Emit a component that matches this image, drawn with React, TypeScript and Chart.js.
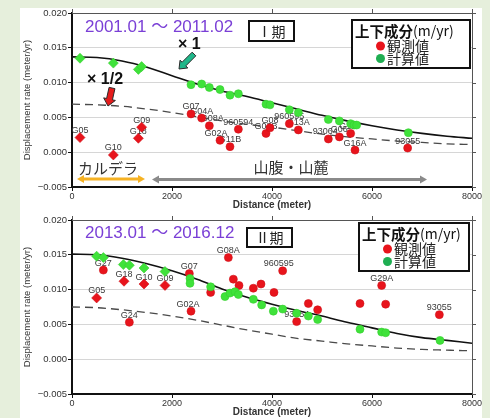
import { useEffect, useRef } from "react";
import { Chart, registerables } from "chart.js";

Chart.register(...registerables);

const SANS = "'Liberation Sans', 'Noto Sans CJK JP', sans-serif";
const JP = "'Noto Sans CJK JP', 'Noto Sans', sans-serif";

// Distances (m) at which the model curves are sampled
const curveDist = [0, 500, 1000, 1500, 2000, 2500, 3000, 3500, 4000, 4500, 5000, 5500, 6000, 6500, 7000, 7500, 8000];

// Period I: 2001.01 – 2011.02
const p1ModelFull = [0.0137, 0.0136, 0.0131, 0.0122, 0.0110, 0.0098, 0.0088, 0.0080, 0.0071, 0.0062, 0.0053, 0.0045, 0.0038, 0.0032, 0.0027, 0.0023, 0.0020];
const p1ModelHalf = [0.0069, 0.0068, 0.0066, 0.0062, 0.0057, 0.0051, 0.0045, 0.0040, 0.0036, 0.0031, 0.0026, 0.0022, 0.0019, 0.0016, 0.0014, 0.0012, 0.0011];
const p1ObsLabel = ["G05", "G10", "G18", "G09", "G07", "G04A", "G08A", "G02A", "G11B", "960594", "G03B", "G08", "960595", "G13A", "93064", "G06", "G12", "G16A", "93055"];
const p1ObsDist = [160, 827, 1327, 1393, 2380, 2593, 2747, 2960, 3160, 3327, 3880, 3960, 4347, 4527, 5127, 5347, 5573, 5660, 6713];
const p1ObsRate = [0.0021, -0.0004, 0.002, 0.0036, 0.0055, 0.0049, 0.0038, 0.0017, 0.0008, 0.0033, 0.0027, 0.0035, 0.0041, 0.0032, 0.0019, 0.0022, 0.0027, 0.0003, 0.0006];
const p1CalcDist = [160, 827, 1327, 1393, 2380, 2593, 2747, 2960, 3160, 3327, 3880, 3960, 4347, 4527, 5127, 5347, 5573, 5640, 5693, 6727];
const p1CalcRate = [0.0135, 0.0128, 0.0119, 0.0123, 0.0097, 0.0098, 0.0093, 0.009, 0.0082, 0.0084, 0.0069, 0.0068, 0.0061, 0.0057, 0.0047, 0.0045, 0.0041, 0.0039, 0.0039, 0.0028];

// Period II: 2013.01 – 2016.12
const p2ModelFull = [0.0151, 0.015, 0.0145, 0.0137, 0.0127, 0.0115, 0.0101, 0.0089, 0.0079, 0.007, 0.0062, 0.0053, 0.0045, 0.0037, 0.0031, 0.0027, 0.0023];
const p2ModelHalf = [0.0075, 0.0074, 0.0071, 0.0067, 0.0062, 0.0056, 0.0049, 0.0042, 0.0036, 0.003, 0.0026, 0.0022, 0.0019, 0.0016, 0.0014, 0.0013, 0.0012];
const p2ObsLabel = ["G05", "G27", "G18", "G24", "G10", "G09", "G07", "G02A", "", "G08A", "", "", "", "", "", "960595", "93054", "", "", "", "G29A", "", "93055"];
const p2ObsDist = [493, 627, 1040, 1147, 1440, 1860, 2347, 2380, 2773, 3127, 3227, 3340, 3627, 3780, 4040, 4213, 4493, 4727, 4913, 5760, 6193, 6273, 7347];
const p2ObsRate = [0.0088, 0.0128, 0.0112, 0.0053, 0.0108, 0.0106, 0.0123, 0.0069, 0.0096, 0.0146, 0.0115, 0.0106, 0.0102, 0.0108, 0.0096, 0.0127, 0.0054, 0.008, 0.0071, 0.008, 0.0106, 0.0079, 0.0064];
const p2CalcDist = [493, 627, 1027, 1147, 1440, 1860, 2360, 2360, 2773, 3060, 3160, 3260, 3327, 3627, 3793, 4027, 4213, 4493, 4727, 4913, 5760, 6193, 6273, 7360];
const p2CalcRate = [0.0148, 0.0146, 0.0136, 0.0135, 0.0131, 0.0126, 0.0116, 0.0109, 0.0104, 0.009, 0.0095, 0.0097, 0.0093, 0.0086, 0.0078, 0.0069, 0.0072, 0.0066, 0.0062, 0.0057, 0.0043, 0.0039, 0.0038, 0.0027];

// Stations inside the caldera are drawn as diamonds
const calderaStations = ["G05", "G10", "G18", "G09"];
const calderaEdge = 2000;

const OBS_RED = "#e8141c";
const CALC_GREEN = "#3fe23a";
const LEGEND_GREEN = "#1fae52";

type Panel = {
  period: string;
  tag: string;
  obsLabel: string[];
  obsDist: number[];
  obsRate: number[];
  calcDist: number[];
  calcRate: number[];
  full: number[];
  half: number[];
  labelShift: Record<string, number>;
  tagBox: [number, number, number, number];
  legendBox: [number, number, number, number];
  titleDy: number;
  notes: boolean;
};

const panels: Panel[] = [
  {
    period: "2001.01 ～ 2011.02",
    tag: "Ⅰ期",
    obsLabel: p1ObsLabel,
    obsDist: p1ObsDist,
    obsRate: p1ObsRate,
    calcDist: p1CalcDist,
    calcRate: p1CalcRate,
    full: p1ModelFull,
    half: p1ModelHalf,
    labelShift: { G08A: 3, G02A: -4, "93064": -3, G12: -3 },
    tagBox: [177, 8, 45, 20],
    legendBox: [280, 7, 118, 48],
    titleDy: 14,
    notes: true,
  },
  {
    period: "2013.01 ～ 2016.12",
    tag: "Ⅱ期",
    obsLabel: p2ObsLabel,
    obsDist: p2ObsDist,
    obsRate: p2ObsRate,
    calcDist: p2CalcDist,
    calcRate: p2CalcRate,
    full: p2ModelFull,
    half: p2ModelHalf,
    labelShift: { G02A: -3, "960595": -4 },
    tagBox: [175, 8, 45, 19],
    legendBox: [287, 3, 110, 48],
    titleDy: 13,
    notes: false,
  },
];

function blockArrow(ctx: CanvasRenderingContext2D, x0: number, y0: number, x1: number, y1: number, fill: string, shaft: number, head: number, headLen: number) {
  const dx = x1 - x0, dy = y1 - y0;
  const len = Math.hypot(dx, dy);
  const ux = dx / len, uy = dy / len;
  const nx = -uy, ny = ux;
  const bx = x1 - ux * headLen, by = y1 - uy * headLen;
  ctx.beginPath();
  ctx.moveTo(x0 + nx * shaft, y0 + ny * shaft);
  ctx.lineTo(bx + nx * shaft, by + ny * shaft);
  ctx.lineTo(bx + nx * head, by + ny * head);
  ctx.lineTo(x1, y1);
  ctx.lineTo(bx - nx * head, by - ny * head);
  ctx.lineTo(bx - nx * shaft, by - ny * shaft);
  ctx.lineTo(x0 - nx * shaft, y0 - ny * shaft);
  ctx.closePath();
  ctx.fillStyle = fill;
  ctx.fill();
  ctx.strokeStyle = "#2a2a2a";
  ctx.lineWidth = 1;
  ctx.stroke();
}

function rangeArrow(ctx: CanvasRenderingContext2D, xa: number, xb: number, y: number, color: string) {
  const hl = 7, hw = 4;
  ctx.strokeStyle = color;
  ctx.fillStyle = color;
  ctx.lineWidth = 3;
  ctx.beginPath();
  ctx.moveTo(xa + hl - 1, y);
  ctx.lineTo(xb - hl + 1, y);
  ctx.stroke();
  ctx.beginPath();
  ctx.moveTo(xa, y);
  ctx.lineTo(xa + hl, y - hw);
  ctx.lineTo(xa + hl, y + hw);
  ctx.closePath();
  ctx.moveTo(xb, y);
  ctx.lineTo(xb - hl, y - hw);
  ctx.lineTo(xb - hl, y + hw);
  ctx.closePath();
  ctx.fill();
}

function makeDecor(p: Panel) {
  return {
    id: "panelDecor",
    beforeDatasetsDraw(chart: any) {
      const { ctx } = chart;
      const xs = chart.scales.x, ys = chart.scales.y;
      ctx.save();
      ctx.font = `9px ${SANS}`;
      ctx.fillStyle = "#3a3a3a";
      ctx.textAlign = "center";
      ctx.textBaseline = "middle";
      p.obsLabel.forEach((name, i) => {
        if (!name) return;
        const shift = p.labelShift[name] ?? 0;
        ctx.fillText(name, xs.getPixelForValue(p.obsDist[i]) + shift, ys.getPixelForValue(p.obsRate[i]) - 7);
      });
      ctx.restore();
    },
    afterDraw(chart: any) {
      const { ctx, chartArea: a } = chart;
      const xs = chart.scales.x, ys = chart.scales.y;
      ctx.save();

      // top and right frame with outward ticks
      ctx.strokeStyle = "#555";
      ctx.lineWidth = 1;
      ctx.beginPath();
      ctx.moveTo(a.left, a.top + 0.5);
      ctx.lineTo(a.right, a.top + 0.5);
      ctx.moveTo(a.right + 0.5, a.top);
      ctx.lineTo(a.right + 0.5, a.bottom);
      xs.ticks.forEach((t: any) => {
        const px = Math.round(xs.getPixelForValue(t.value)) + 0.5;
        ctx.moveTo(px, a.top);
        ctx.lineTo(px, a.top - 4);
      });
      ys.ticks.forEach((t: any) => {
        const py = Math.round(ys.getPixelForValue(t.value)) + 0.5;
        ctx.moveTo(a.right, py);
        ctx.lineTo(a.right + 4, py);
      });
      ctx.stroke();

      // period title
      ctx.font = `17px ${SANS}`;
      ctx.fillStyle = "#7a3fd6";
      ctx.textAlign = "left";
      ctx.textBaseline = "middle";
      ctx.fillText(p.period, a.left + 13, a.top + p.titleDy);

      // period tag box
      const [tx, ty, tw, th] = p.tagBox;
      ctx.fillStyle = "#fff";
      ctx.fillRect(a.left + tx, a.top + ty, tw, th);
      ctx.strokeStyle = "#111";
      ctx.lineWidth = 2;
      ctx.strokeRect(a.left + tx, a.top + ty, tw, th);
      ctx.fillStyle = "#222";
      ctx.font = `14px ${JP}`;
      ctx.textAlign = "center";
      ctx.fillText(p.tag, a.left + tx + tw / 2, a.top + ty + th / 2 + 0.5);

      // legend box
      const [lx0, ly0, lw, lh] = p.legendBox;
      const lx = a.left + lx0, ly = a.top + ly0;
      ctx.fillStyle = "#fff";
      ctx.fillRect(lx, ly, lw, lh);
      ctx.strokeRect(lx, ly, lw, lh);
      ctx.textAlign = "left";
      ctx.fillStyle = "#111";
      ctx.font = `bold 14.5px ${JP}`;
      ctx.fillText("上下成分", lx + 3, ly + 11);
      const bw = ctx.measureText("上下成分").width;
      ctx.font = `14px ${JP}`;
      ctx.fillText("(m/yr)", lx + 3 + bw, ly + 11);
      const rows: [string, string, number][] = [
        ["観測値", OBS_RED, 26],
        ["計算値", LEGEND_GREEN, 38.5],
      ];
      ctx.font = `14px ${JP}`;
      rows.forEach(([text, color, dy]) => {
        ctx.beginPath();
        ctx.arc(lx + 28.5, ly + dy, 4.5, 0, Math.PI * 2);
        ctx.fillStyle = color;
        ctx.fill();
        ctx.fillStyle = "#222";
        ctx.fillText(text, lx + 35, ly + dy);
      });

      if (p.notes) {
        // model scale notes
        ctx.fillStyle = "#111";
        ctx.font = `bold 16px ${SANS}`;
        ctx.fillText("× 1", a.left + 106, a.top + 32);
        ctx.fillText("× 1/2", a.left + 15, a.top + 67);
        blockArrow(ctx, a.left + 122, a.top + 41, a.left + 107, a.top + 56, "#1fb88a", 2.6, 5.5, 7);
        blockArrow(ctx, a.left + 40, a.top + 75, a.left + 36, a.top + 93, "#e51c1c", 3, 6, 7);

        // caldera / flank ranges
        rangeArrow(ctx, a.left + 5, a.left + 73, a.top + 166, "#f6b223");
        rangeArrow(ctx, a.left + 80, a.left + 355, a.top + 166.5, "#8a8a8a");
        ctx.fillStyle = "#333";
        ctx.font = `15px ${JP}`;
        ctx.textAlign = "center";
        ctx.fillText("カルデラ", a.left + 36, a.top + 155);
        ctx.fillText("山腹・山麓", a.left + 219, a.top + 154);
      }
      ctx.restore();
    },
  };
}

function rateText(v: number) {
  if (Math.abs(v) < 1e-9) return "0.000";
  return v < 0 ? "−" + Math.abs(v).toFixed(3) : v.toFixed(3);
}

function buildConfig(p: Panel, height: number, areaTop: number): any {
  const areaHeight = 174;
  return {
    type: "scatter",
    data: {
      datasets: [
        {
          label: "計算値",
          data: p.calcDist.map((x, i) => ({ x, y: p.calcRate[i] })),
          pointStyle: p.calcDist.map((x) => (x < calderaEdge ? "rectRot" : "circle")),
          pointRadius: p.calcDist.map((x) => (x < calderaEdge ? 5 : 4)),
          backgroundColor: CALC_GREEN,
          borderColor: "#35cf2f",
          borderWidth: 0.6,
          order: 0,
        },
        {
          label: "観測値",
          data: p.obsDist.map((x, i) => ({ x, y: p.obsRate[i] })),
          pointStyle: p.obsLabel.map((n) => (calderaStations.includes(n) ? "rectRot" : "circle")),
          pointRadius: p.obsLabel.map((n) => (calderaStations.includes(n) ? 5 : 4)),
          backgroundColor: OBS_RED,
          borderColor: "#d01018",
          borderWidth: 0.6,
          order: 1,
        },
        {
          type: "line",
          label: "×1",
          data: curveDist.map((x, i) => ({ x, y: p.full[i] })),
          borderColor: "#111",
          borderWidth: 1.6,
          pointRadius: 0,
          fill: false,
          tension: 0.4,
          cubicInterpolationMode: "monotone",
          order: 2,
        },
        {
          type: "line",
          label: "×1/2",
          data: curveDist.map((x, i) => ({ x, y: p.half[i] })),
          borderColor: "#4a4a4a",
          borderWidth: 1.3,
          borderDash: [8, 5],
          pointRadius: 0,
          fill: false,
          tension: 0.4,
          cubicInterpolationMode: "monotone",
          order: 3,
        },
      ],
    },
    options: {
      responsive: false,
      animation: false,
      devicePixelRatio: 1,
      layout: { padding: { top: areaTop, right: 18, left: 0, bottom: 0 } },
      plugins: { legend: { display: false }, tooltip: { enabled: false } },
      scales: {
        x: {
          type: "linear",
          min: 0,
          max: 8000,
          afterFit: (s: any) => {
            s.height = height - areaTop - areaHeight;
          },
          ticks: {
            stepSize: 2000,
            callback: (v: number) => String(v),
            font: { family: SANS, size: 9 },
            color: "#333",
            padding: 0,
            maxRotation: 0,
            autoSkip: false,
          },
          grid: { drawOnChartArea: false, drawTicks: true, tickLength: 4, tickColor: "#111" },
          border: { color: "#111", width: 2 },
          title: {
            display: true,
            text: "Distance (meter)",
            font: { family: SANS, size: 10, weight: "bold" },
            color: "#333",
            padding: { top: 0, bottom: 0 },
          },
        },
        y: {
          type: "linear",
          min: -0.005,
          max: 0.02,
          afterFit: (s: any) => {
            s.width = 72;
          },
          ticks: { stepSize: 0.005, callback: (v: number) => rateText(v), font: { family: SANS, size: 9.5 }, color: "#333", padding: 1 },
          grid: { color: "#d6d6d6", lineWidth: 1, tickLength: 4, tickColor: "#111" },
          border: { color: "#111", width: 2 },
          title: {
            display: true,
            text: "Displacement rate (meter/yr)",
            font: { family: SANS, size: 9.5 },
            color: "#333",
            padding: { top: 22, bottom: 0 },
          },
        },
      },
    },
    plugins: [makeDecor(p)],
  };
}

function PanelChart({ panel, top, height, areaTop }: { panel: Panel; top: number; height: number; areaTop: number }) {
  const ref = useRef<HTMLCanvasElement>(null);
  useEffect(() => {
    const chart = new Chart(ref.current as HTMLCanvasElement, buildConfig(panel, height, areaTop));
    return () => chart.destroy();
  }, [panel, height, areaTop]);
  return (
    <canvas
      ref={ref}
      width={490}
      height={height}
      style={{ position: "absolute", left: 0, top, width: 490, height }}
    />
  );
}

export default function App() {
  return (
    <div
      style={{
        position: "fixed",
        left: 0,
        top: 0,
        width: 490,
        height: 418,
        background: "#e6efdc",
        overflow: "hidden",
      }}
    >
      <div style={{ position: "absolute", left: 20, top: 8, width: 462, height: 410, background: "#fff" }} />
      <PanelChart panel={panels[0]} top={0} height={211} areaTop={13} />
      <PanelChart panel={panels[1]} top={210} height={208} areaTop={10} />
    </div>
  );
}
